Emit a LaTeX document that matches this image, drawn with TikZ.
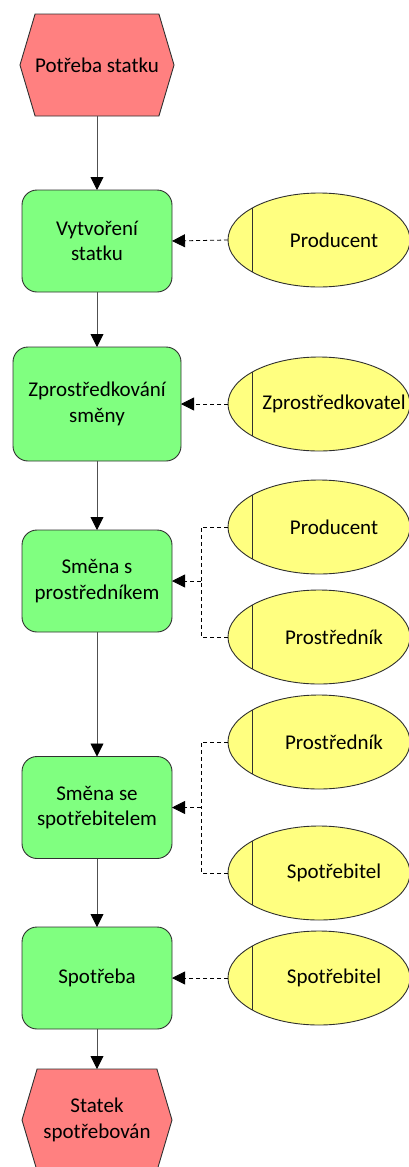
\documentclass[tikz,border=0pt]{standalone}
\usepackage{fontspec}
\setmainfont{Carlito}
\usetikzlibrary{shapes.geometric,shapes.symbols,arrows.meta,calc}
\definecolor{evred}{HTML}{FF8080}
\definecolor{fngreen}{HTML}{80FF80}
\definecolor{rlyellow}{HTML}{FFFF80}
\definecolor{edge}{HTML}{303030}
\definecolor{linegray}{HTML}{505050}
\begin{document}
\begin{tikzpicture}[x=1pt,y=-1pt,
  font=\fontsize{21}{25.6}\selectfont,
  event/.style={shape=signal, signal to=east and west, signal pointer angle=147,
    fill=evred, draw=edge, line width=0.9pt, minimum width=150pt, minimum height=102pt,
    inner sep=0pt, outer sep=0pt, align=center},
  func/.style={rectangle, rounded corners=15pt, fill=fngreen, draw=edge, line width=0.9pt,
    minimum width=150pt, minimum height=102pt, inner sep=0pt, outer sep=0pt, align=center},
  role/.style={ellipse, fill=rlyellow, draw=edge, line width=0.9pt,
    minimum width=182pt, minimum height=94pt, inner sep=0pt, outer sep=0pt},
  roletext/.style={inner sep=0pt},
  flow/.style={draw=linegray, line width=0.9pt, -{Triangle[width=13pt,length=13pt,color=black]}},
  assign/.style={draw=black, line width=0.8pt, dash pattern=on 4pt off 3pt},
  assignarrow/.style={assign, -{Triangle[width=13pt,length=13pt,color=black]}},
]
\useasboundingbox (0,0) rectangle (409,1167);

% process chain
\node[event] (ev1) at (97,65) {Potřeba statku};
\node[func] (f1) at (97,241) {Vytvoření\\statku};
\node[func, minimum width=168pt, minimum height=114pt] (f2) at (97,404) {Zprostředkování\\směny};
\node[func] (f3) at (97,581) {Směna s\\prostředníkem};
\node[func] (f4) at (97,807.5) {Směna se\\spotřebitelem};
\node[func] (f5) at (97,978) {Spotřeba};
\node[event] (ev2) at (97,1120) {Statek\\spotřebován};

\draw[flow] (ev1.south) -- (f1.north);
\draw[flow] (f1.south) -- (f2.north);
\draw[flow] (f2.south) -- (f3.north);
\draw[flow] (f3.south) -- (f4.north);
\draw[flow] (f4.south) -- (f5.north);
\draw[flow] (f5.south) -- (ev2.north);

% roles: ellipse with a vertical divider near its left end
\foreach \n/\y/\t in {r1/240/Producent, r2/404/Zprostředkovatel, r3/527/Producent,
    r4/637/Prostředník, r5/742/Prostředník, r6/873/Spotřebitel, r7/978/Spotřebitel}{
  \node[role] (\n) at (319,\y) {};
  \draw[edge, line width=0.9pt] ($(\n.center)+(-67,-31.8)$) -- ++(0,63.6);
  \node[roletext] (\n t) at ($(\n.center)+(15,0)$) {\t};
}

% role assignments
\draw[assignarrow] (r1.west) -- (f1.east);
\draw[assignarrow] (r2.west) -- (f2.east);

\coordinate (j3) at (201,581);
\draw[assign] (r3.west) -| (j3);
\draw[assign] (r4.west) -| (j3);
\draw[assignarrow] (j3) -- (f3.east);

\coordinate (j4) at (201,807.5);
\draw[assign] (r5.west) -| (j4);
\draw[assign] (r6.west) -| (j4);
\draw[assignarrow] (j4) -- (f4.east);

\draw[assignarrow] (r7.west) -- (f5.east);
\end{tikzpicture}
\end{document}
